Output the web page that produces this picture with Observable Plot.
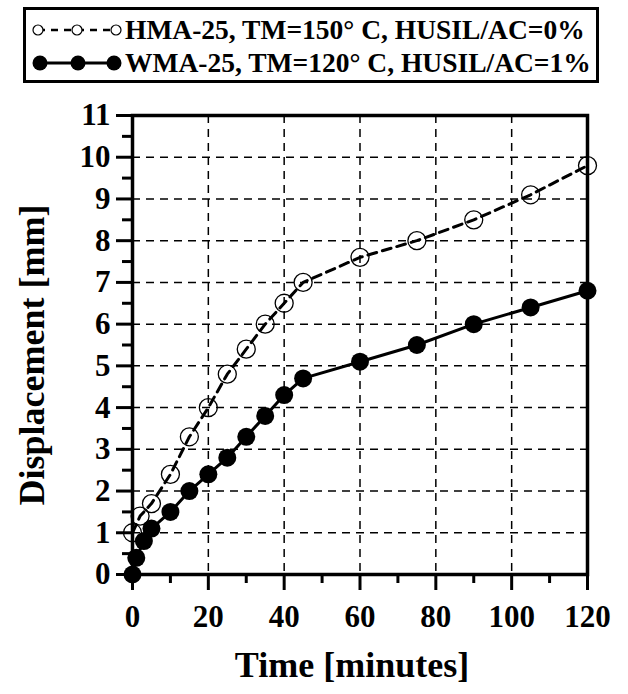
<!DOCTYPE html>
<html>
<head>
<meta charset="utf-8">
<script src="https://cdn.jsdelivr.net/npm/d3@7"></script>
<script src="https://cdn.jsdelivr.net/npm/@observablehq/plot@0.6"></script>
<style>
  html, body { margin: 0; padding: 0; background: #fff; }
  body { width: 628px; height: 694px; position: relative; overflow: hidden;
         font-family: "Liberation Serif", "Times New Roman", serif; font-weight: bold; }
  #legend { position: absolute; left: 23px; top: 7px; width: 570px; height: 70px;
            border: 3px solid #000; }
  .row { position: absolute; left: 0; height: 34px; display: flex; align-items: center; }
  .row svg { width: 94px; height: 30px; margin-left: 4px; }
  .row span { font-size: 27.5px; margin-left: 1px; white-space: nowrap; }
  #chart { position: absolute; left: 0; top: 90px; }
</style>
</head>
<body>
<div id="legend"></div>
<div id="chart"></div>
<script>
// ---- data ----
const seriesNames = ["HMA-25, TM=150° C, HUSIL/AC=0%", "WMA-25, TM=120° C, HUSIL/AC=1%"];
const hmaTime = [0, 2, 5, 10, 15, 20, 25, 30, 35, 40, 45, 60, 75, 90, 105, 120];
const hmaDisp = [1.0, 1.4, 1.7, 2.4, 3.3, 4.0, 4.8, 5.4, 6.0, 6.5, 7.0, 7.6, 8.0, 8.5, 9.1, 9.8];
const wmaTime = [0, 1, 3, 5, 10, 15, 20, 25, 30, 35, 40, 45, 60, 75, 90, 105, 120];
const wmaDisp = [0, 0.4, 0.8, 1.1, 1.5, 2.0, 2.4, 2.8, 3.3, 3.8, 4.3, 4.7, 5.1, 5.5, 6.0, 6.4, 6.8];
const xTicks = [0, 20, 40, 60, 80, 100, 120];
const xMinor = [10, 30, 50, 70, 90, 110];
const yTicks = [0, 1, 2, 3, 4, 5, 6, 7, 8, 9, 10, 11];
const yMinor = [0.5, 1.5, 2.5, 3.5, 4.5, 5.5, 6.5, 7.5, 8.5, 9.5, 10.5];
const xTitle = "Time [minutes]";
const yTitle = "Displacement [mm]";

const hma = hmaTime.map((t, i) => ({t, v: hmaDisp[i]}));
const wma = wmaTime.map((t, i) => ({t, v: wmaDisp[i]}));

// ---- legend ----
const legend = document.getElementById("legend");
legend.innerHTML = `
  <div class="row" style="top:3px">
    <svg viewBox="0 0 94 30">
      <line x1="8" y1="15" x2="86" y2="15" stroke="#000" stroke-width="2.5" stroke-dasharray="7,6"/>
      <circle cx="8" cy="15" r="5" fill="#fff" stroke="#000" stroke-width="1.2"/>
      <circle cx="47" cy="15" r="5" fill="#fff" stroke="#000" stroke-width="1.2"/>
      <circle cx="86" cy="15" r="5" fill="#fff" stroke="#000" stroke-width="1.2"/>
    </svg><span>${seriesNames[0]}</span></div>
  <div class="row" style="top:36px">
    <svg viewBox="0 0 94 30">
      <line x1="10" y1="15" x2="84" y2="15" stroke="#000" stroke-width="3"/>
      <circle cx="10" cy="15" r="7.5" fill="#000"/>
      <circle cx="48" cy="15" r="7.5" fill="#000"/>
      <circle cx="84" cy="15" r="7.5" fill="#000"/>
    </svg><span>${seriesNames[1]}</span></div>`;

// ---- chart ----
const font = "'Liberation Serif', 'Times New Roman', serif";
const chart = Plot.plot({
  width: 628,
  height: 604,
  marginTop: 25,
  marginBottom: 120,
  marginLeft: 132,
  marginRight: 41,
  style: {fontFamily: font, fontWeight: "bold", color: "#000", background: "#fff", overflow: "visible"},
  x: {domain: [0, 120]},
  y: {domain: [0, 11]},
  marks: [
    Plot.gridX(xTicks, {stroke: "#000", strokeOpacity: 1, strokeWidth: 1.5, strokeDasharray: "8,6"}),
    Plot.gridY(yTicks, {stroke: "#000", strokeOpacity: 1, strokeWidth: 1.5, strokeDasharray: "8,6"}),
    Plot.axisX({ticks: xMinor, tickSize: 9, stroke: "#000", strokeOpacity: 1, strokeWidth: 3, tickFormat: () => "", label: null}),
    Plot.axisY({ticks: yMinor, tickSize: 10, stroke: "#000", strokeOpacity: 1, strokeWidth: 3, tickFormat: () => "", label: null}),
    Plot.axisX({ticks: xTicks, tickSize: 16, tickPadding: 14, stroke: "#000", strokeOpacity: 1, strokeWidth: 3, fontSize: 31, label: null}),
    Plot.axisY({ticks: yTicks, tickSize: 16, tickPadding: 6, stroke: "#000", strokeOpacity: 1, strokeWidth: 3, fontSize: 31, label: null}),
    Plot.frame({stroke: "#000", strokeWidth: 3.5}),
    Plot.line(hma, {x: "t", y: "v", stroke: "#000", strokeWidth: 3, strokeDasharray: "9,6"}),
    Plot.line(wma, {x: "t", y: "v", stroke: "#000", strokeWidth: 3}),
    Plot.dot(hma, {x: "t", y: "v", r: 9, stroke: "#000", strokeWidth: 1.3, fill: "none"}),
    Plot.dot(wma, {x: "t", y: "v", r: 9, fill: "#000", stroke: "none"}),
    Plot.text([xTitle], {frameAnchor: "bottom", dx: -8, dy: 102, fontSize: 36, fontWeight: "bold", fill: "#000"}),
    Plot.text([yTitle], {frameAnchor: "left", textAnchor: "middle", dx: -100, dy: 10, rotate: -90, fontSize: 36, fontWeight: "bold", fill: "#000"})
  ]
});
document.getElementById("chart").appendChild(chart);
</script>
</body>
</html>
